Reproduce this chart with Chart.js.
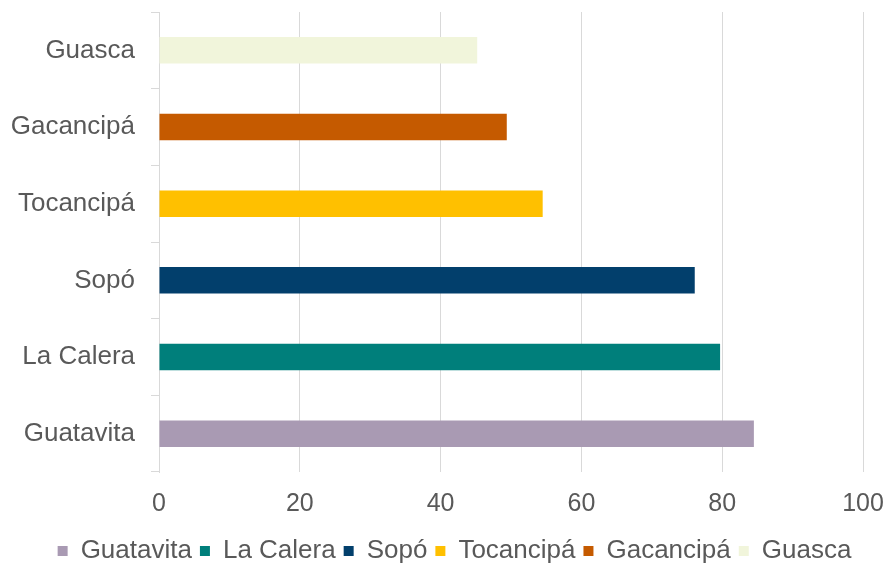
<!DOCTYPE html>
<html>
<head>
<meta charset="utf-8">
<script src="https://cdn.jsdelivr.net/npm/chart.js@4"></script>
<style>
  html, body { margin: 0; padding: 0; background: #ffffff; }
  #wrap { width: 889px; height: 566px; }
</style>
</head>
<body>
<div id="wrap"><canvas id="c" width="889" height="566"></canvas></div>
<script>
const categories = ["Guatavita", "La Calera", "Sopó", "Tocancipá", "Gacancipá", "Guasca"];
const values = [84.5, 79.7, 76.1, 54.5, 49.4, 45.2];
const colors = ["#a99ab3", "#007f7b", "#023f6c", "#ffc000", "#c55a00", "#f1f5db"];
const xTicks = [0, 20, 40, 60, 80, 100];

const textColor = "#595959";
const gridColor = "#d9d9d9";
const fontFamily = "'Liberation Sans', Arial, sans-serif";

const legendShift = {
  id: "legendShift",
  afterLayout(chart) {
    if (chart.legend) { chart.legend.left += 23; chart.legend.right += 23; }
  }
};

new Chart(document.getElementById("c"), {
  type: "bar",
  data: {
    labels: categories,
    datasets: [{
      label: "Serie",
      data: values,
      backgroundColor: colors,
      borderWidth: 0,
      categoryPercentage: 1,
      barPercentage: 0.345
    }]
  },
  plugins: [legendShift],
  options: {
    indexAxis: "y",
    responsive: false,
    animation: false,
    layout: { padding: { top: 12, right: 26, left: 0, bottom: -8 } },
    plugins: {
      tooltip: { enabled: false },
      legend: {
        position: "bottom",
        labels: {
          color: textColor,
          font: { family: fontFamily, size: 26 },
          boxWidth: 10,
          boxHeight: 10,
          padding: 8,
          generateLabels: (chart) => categories.map((c, i) => ({
            text: c,
            fillStyle: colors[i],
            strokeStyle: colors[i],
            lineWidth: 0,
            hidden: false,
            index: i,
            fontColor: textColor
          }))
        }
      }
    },
    scales: {
      x: {
        min: 0,
        max: 100,
        afterBuildTicks: (scale) => { scale.ticks = xTicks.map(v => ({ value: v })); },
        afterFit: (scale) => { scale.height = 58; scale.paddingLeft = 0; scale.paddingRight = 0; },
        grid: { color: gridColor, lineWidth: 1, drawTicks: false, tickLength: 0 },
        border: { display: false },
        ticks: { color: textColor, font: { family: fontFamily, size: 25 }, padding: 17 }
      },
      y: {
        reverse: true,
        afterFit: (scale) => { scale.width = 159; scale.paddingTop = 0; scale.paddingBottom = 0; },
        grid: { color: gridColor, lineWidth: 1, drawOnChartArea: false, drawTicks: true, tickLength: 8, offset: true },
        border: { display: true, color: gridColor, width: 1 },
        ticks: { color: textColor, font: { family: fontFamily, size: 26 }, padding: 16 }
      }
    }
  }
});
</script>
</body>
</html>
